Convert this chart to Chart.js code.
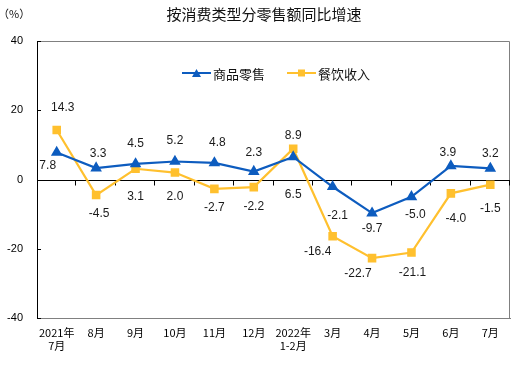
<!DOCTYPE html>
<html>
<head>
<meta charset="utf-8">
<script src="https://cdn.jsdelivr.net/npm/chart.js@4/dist/chart.umd.min.js"></script>
<style>
  html, body { margin: 0; padding: 0; background: #fff; }
  #wrap { width: 532px; height: 366px; }
</style>
</head>
<body>
<div id="wrap"><canvas id="c"></canvas></div>
<script>
// data
const months = [['2021年', '7月'], '8月', '9月', '10月', '11月', '12月', ['2022年', '1-2月'], '3月', '4月', '5月', '6月', '7月'];
const goodsRetail = [7.8, 3.3, 4.5, 5.2, 4.8, 2.3, 6.5, -2.1, -9.7, -5.0, 3.9, 3.2];
const cateringIncome = [14.3, -4.5, 3.1, 2.0, -2.7, -2.2, 8.9, -16.4, -22.7, -21.1, -4.0, -1.5];
const yTicks = [-40, -20, 0, 20, 40];

// label offsets (px) from each point
const goodsLabelOff = [[-9, 13], [2, -14], [0, -20], [0, -21], [3, -20], [0, -19], [0, 38], [5, 29], [0, 16], [4, 18], [-3, -13], [0, -15]];
const cateringLabelOff = [[6, -22], [3, 19], [0, 28], [0, 24], [0, 19], [0, 20], [0, -13], [-15, 15], [-14, 16], [1, 20], [5, 25], [0, 24]];

const BLUE = '#0d5cbf';
const YELLOW = '#ffc02e';

const decor = {
  id: 'decor',
  beforeDatasetsDraw(chart) {
    const { ctx, chartArea: a, scales } = chart;
    const y0 = Math.round(scales.y.getPixelForValue(0)) + 0.5;
    ctx.save();
    // frame top/right
    ctx.strokeStyle = '#808080';
    ctx.lineWidth = 1;
    ctx.beginPath();
    ctx.moveTo(a.left, a.top + 0.5);
    ctx.lineTo(a.right - 0.5, a.top + 0.5);
    ctx.lineTo(a.right - 0.5, a.bottom);
    ctx.stroke();
    // zero line with category ticks
    ctx.strokeStyle = '#000';
    ctx.beginPath();
    ctx.moveTo(a.left, y0);
    ctx.lineTo(a.right, y0);
    const step = (a.right - a.left) / months.length;
    for (let i = 1; i <= months.length; i++) {
      const x = Math.round(a.left + i * step) - 0.5;
      ctx.moveTo(x, y0);
      ctx.lineTo(x, y0 + 5);
    }
    // y ticks pointing inward
    yTicks.forEach(v => {
      const y = Math.round(scales.y.getPixelForValue(v)) + 0.5;
      ctx.moveTo(a.left, y);
      ctx.lineTo(a.left + 4, y);
    });
    ctx.stroke();
    ctx.restore();
  },
  afterDatasetsDraw(chart) {
    const { ctx, chartArea: a } = chart;
    ctx.save();
    // value labels
    ctx.font = '12px Arial, "Liberation Sans"';
    ctx.fillStyle = '#1a1a1a';
    ctx.textAlign = 'center';
    ctx.textBaseline = 'middle';
    const offs = [goodsLabelOff, cateringLabelOff];
    chart.data.datasets.forEach((ds, di) => {
      const meta = chart.getDatasetMeta(di);
      meta.data.forEach((pt, i) => {
        const o = offs[di][i];
        ctx.fillText(ds.data[i].toFixed(1), pt.x + o[0], pt.y + o[1]);
      });
    });
    // title and unit
    ctx.fillStyle = '#111';
    ctx.font = '15px "Noto Sans CJK SC"';
    ctx.fillText('按消费类型分零售额同比增速', 264, 14);
    ctx.font = '11px "Noto Sans CJK SC"';
    ctx.textAlign = 'left';
    ctx.fillText('（%）', -2, 14);
    // legend inside plot
    const items = [[BLUE, '商品零售', 182, 'triangle'], [YELLOW, '餐饮收入', 287, 'rect']];
    ctx.font = '13px "Noto Sans CJK SC"';
    items.forEach(([c, t, x, shape]) => {
      const y = 73;
      ctx.strokeStyle = c;
      ctx.lineWidth = 2;
      ctx.beginPath();
      ctx.moveTo(x, y);
      ctx.lineTo(x + 29, y);
      ctx.stroke();
      ctx.fillStyle = c;
      if (shape === 'rect') {
        ctx.fillRect(x + 11, y - 3.5, 7, 7);
      } else {
        ctx.beginPath();
        ctx.moveTo(x + 14.5, y - 4);
        ctx.lineTo(x + 19, y + 4);
        ctx.lineTo(x + 10, y + 4);
        ctx.closePath();
        ctx.fill();
      }
      ctx.fillStyle = '#111';
      ctx.fillText(t, x + 31, y + 1);
    });
    ctx.restore();
  }
};

new Chart(document.getElementById('c'), {
  type: 'line',
  data: {
    labels: months,
    datasets: [
      {
        label: '商品零售',
        data: goodsRetail,
        borderColor: BLUE,
        backgroundColor: BLUE,
        borderWidth: 2.2,
        pointStyle: 'triangle',
        pointRadius: 4.5,
        tension: 0
      },
      {
        label: '餐饮收入',
        data: cateringIncome,
        borderColor: YELLOW,
        backgroundColor: YELLOW,
        borderWidth: 2.2,
        pointStyle: 'rect',
        pointRadius: 4.5,
        tension: 0
      }
    ]
  },
  options: {
    responsive: true,
    maintainAspectRatio: false,
    animation: false,
    layout: { padding: { left: 0, top: 41, right: 22, bottom: 0 } },
    plugins: {
      legend: { display: false },
      title: { display: false },
      tooltip: { enabled: false }
    },
    scales: {
      x: {
        offset: true,
        grid: { display: false, drawTicks: false },
        border: { color: '#808080', width: 1 },
        ticks: {
          color: '#000',
          font: { family: '"Noto Sans CJK SC"', size: 11 },
          padding: 8,
          maxRotation: 0,
          autoSkip: false
        },
        afterFit(s) { s.height = 48; }
      },
      y: {
        min: -40,
        max: 40,
        grid: { display: false, drawTicks: false },
        border: { color: '#000', width: 1 },
        ticks: {
          stepSize: 20,
          color: '#000',
          font: { family: 'Arial, "Liberation Sans"', size: 11 },
          padding: 14
        },
        afterFit(s) { s.width = 37; }
      }
    }
  },
  plugins: [decor]
});
</script>
</body>
</html>
